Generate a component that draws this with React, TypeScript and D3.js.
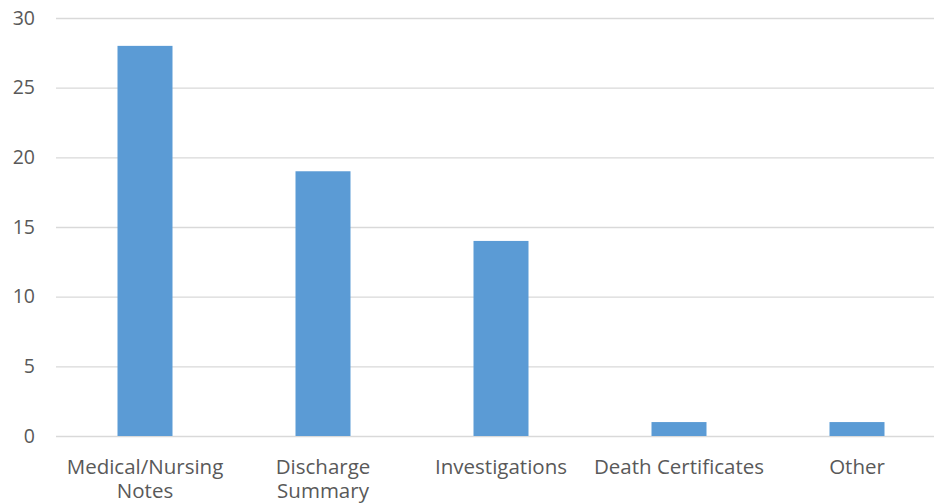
import React, { useEffect, useRef } from "react";
import * as d3 from "d3";

const categories = ["Medical/Nursing Notes", "Discharge Summary", "Investigations", "Death Certificates", "Other"];
const values = [28, 19, 14, 1, 1];
const yTicks = [0, 5, 10, 15, 20, 25, 30];

const W = 934;
const H = 503;
const FONT = "'Open Sans', 'Noto Sans', sans-serif";

export default function App() {
  const ref = useRef<SVGSVGElement>(null);

  useEffect(() => {
    const svg = d3.select(ref.current);
    svg.selectAll("*").remove();

    const x = d3.scaleBand<string>().domain(categories).range([56, 946]).paddingInner(0.69).paddingOuter(0.345);
    const y = d3.scaleLinear().domain([0, 30]).range([436, 18]);

    const g = svg.append("g");

    g.selectAll("line.grid")
      .data(yTicks)
      .enter()
      .append("line")
      .attr("x1", 56)
      .attr("x2", W)
      .attr("y1", (d) => y(d) + 0.5)
      .attr("y2", (d) => y(d) + 0.5)
      .attr("stroke", "#d9d9d9")
      .attr("stroke-width", 1.3);

    g.selectAll("text.ytick")
      .data(yTicks)
      .enter()
      .append("text")
      .attr("x", 35)
      .attr("y", (d) => y(d))
      .attr("dy", "0.35em")
      .attr("text-anchor", "end")
      .attr("fill", "#595959")
      .attr("font-family", FONT)
      .attr("font-size", 19.5)
      .text((d) => String(d));

    const bw = 55;
    g.selectAll("rect.bar")
      .data(values)
      .enter()
      .append("rect")
      .attr("x", (_, i) => (x(categories[i]) as number) + x.bandwidth() / 2 - bw / 2)
      .attr("y", (d) => y(d))
      .attr("width", bw)
      .attr("height", (d) => y(0) - y(d))
      .attr("fill", "#5b9bd5");

    const maxW = x.step() - 4;
    categories.forEach((c, i) => {
      const cx = (x(c) as number) + x.bandwidth() / 2;
      const t = g
        .append("text")
        .attr("x", cx)
        .attr("y", 474)
        .attr("text-anchor", "middle")
        .attr("fill", "#595959")
        .attr("font-family", FONT)
        .attr("font-size", 20.5);
      const words = c.split(" ");
      let line: string[] = [];
      let ts = t.append("tspan").attr("x", cx).attr("dy", 0);
      words.forEach((w) => {
        line.push(w);
        ts.text(line.join(" "));
        if ((ts.node() as SVGTSpanElement).getComputedTextLength() > maxW && line.length > 1) {
          line.pop();
          ts.text(line.join(" "));
          line = [w];
          ts = t.append("tspan").attr("x", cx).attr("dy", 24).text(w);
        }
      });
    });
  }, []);

  return (
    <svg ref={ref} width={W} height={H} style={{ display: "block", position: "absolute", left: 0, top: 0, background: "#fff" }} />
  );
}
